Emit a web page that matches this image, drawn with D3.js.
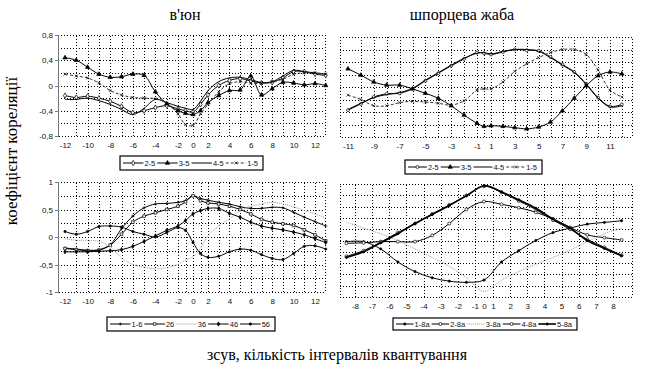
<!DOCTYPE html>
<html><head><meta charset="utf-8">
<script src="https://cdn.jsdelivr.net/npm/d3@7"></script>
<style>
body{margin:0;background:#fff}
svg{display:block}
.tick text{font-family:Arial,'Liberation Sans',sans-serif;font-size:8px;fill:#111}
.lbl{font-family:'Liberation Serif','Times New Roman',serif;fill:#000}
.leg{font-family:Arial,'Liberation Sans',sans-serif;font-size:7.5px;fill:#111}
.grid line,.frame{shape-rendering:crispEdges}
</style></head><body>
<svg id="c" width="649" height="375"></svg>
<script>
// ---- data ----
const lagsLeft = [-12,-11,-10,-9,-8,-7,-6,-5,-4,-3,-2,-1,0,1,2,3,4,5,6,7,8,9,10,11,12,13]
const vyun25 = [-0.16,-0.19,-0.17,-0.2,-0.25,-0.33,-0.43,-0.4,-0.35,-0.32,-0.37,-0.4,-0.42,-0.3,-0.15,0,0.08,0.11,0.07,0.04,0.05,0.12,0.22,0.22,0.18,0.16]
const vyun35 = [0.44,0.4,0.29,0.18,0.13,0.14,0.18,0.16,-0.1,-0.29,-0.4,-0.44,-0.46,-0.4,-0.27,-0.16,-0.08,-0.07,0.15,-0.15,-0.05,0.05,0.04,0.01,0.03,0]
const vyun45 = [-0.22,-0.22,-0.2,-0.24,-0.3,-0.38,-0.46,-0.36,-0.22,-0.27,-0.33,-0.36,-0.38,-0.25,-0.08,0.06,0.12,0.13,0.09,0.05,0.06,0.15,0.24,0.22,0.2,0.18]
const vyun15 = [0.18,0.15,0.12,0.04,-0.08,-0.15,-0.19,-0.2,-0.21,-0.28,-0.45,-0.62,-0.63,-0.45,-0.3,-0.1,0.03,0.06,0.04,0.03,0.06,0.1,0.18,0.2,0.2,0.18]

const vyun16 = [-0.2,-0.22,-0.24,-0.23,-0.14,0.15,0.38,0.53,0.6,0.61,0.63,0.66,0.75,0.7,0.67,0.63,0.6,0.55,0.52,0.52,0.54,0.53,0.45,0.36,0.28,0.2]
const vyun26 = [-0.21,-0.23,-0.25,-0.24,-0.15,0.05,0.27,0.38,0.44,0.5,0.56,0.64,0.75,0.66,0.62,0.6,0.56,0.5,0.42,0.32,0.27,0.24,0.21,0.13,0.04,-0.07]
const vyun36 = [-0.03,-0.06,-0.06,-0.08,-0.17,-0.38,-0.5,-0.55,-0.58,-0.56,-0.5,-0.42,-0.36,-0.2,0.02,0.2,0.33,0.48,0.56,0.6,0.63,0.6,0.55,0.48,0.42,0.35]
const vyun46 = [-0.27,-0.27,-0.27,-0.26,-0.25,-0.23,-0.17,-0.08,0.02,0.12,0.2,0.3,0.42,0.48,0.52,0.52,0.43,0.36,0.27,0.2,0.16,0.13,0.09,0.04,-0.03,-0.1]
const vyun56 = [0.1,0.05,0.1,0.19,0.2,0.18,0.1,0.05,0,0.08,0.17,0.12,-0.1,-0.3,-0.37,-0.35,-0.27,-0.22,-0.24,-0.32,-0.39,-0.41,-0.3,-0.17,-0.16,-0.22]

const lagsToad = [-11,-10,-9,-8,-7,-6,-5,-4,-3,-2,-1,0,1,2,3,4,5,6,7,8,9,10,11,12]
const toad25 = [-0.37,-0.27,-0.16,-0.11,-0.1,-0.03,0.1,0.22,0.34,0.45,0.55,0.54,0.52,0.56,0.6,0.59,0.58,0.48,0.36,0.24,0.05,-0.17,-0.31,-0.28]
const toad35 = [0.29,0.19,0.08,0.03,0.03,-0.03,-0.1,-0.18,-0.3,-0.45,-0.58,-0.63,-0.62,-0.63,-0.65,-0.67,-0.64,-0.56,-0.38,-0.18,0.02,0.18,0.24,0.21]
const toad45 = [-0.36,-0.26,-0.17,-0.12,-0.09,-0.02,0.11,0.23,0.35,0.46,0.54,0.55,0.53,0.57,0.6,0.6,0.57,0.47,0.35,0.23,0.04,-0.18,-0.32,-0.3]
const toad15 = [-0.13,-0.2,-0.3,-0.3,-0.25,-0.23,-0.24,-0.26,-0.29,-0.22,-0.05,-0.03,-0.03,0.08,0.25,0.37,0.47,0.55,0.6,0.6,0.52,0.27,-0.05,-0.16]

const lagsToadB = [-8.5,-7.5,-6.5,-5.5,-4.5,-3.5,-2.5,-1.5,0,1.5,2.5,3.5,4.5,5.5,6.5,7.5,8.5]
const toad18a = [-0.02,-0.02,-0.15,-0.38,-0.55,-0.66,-0.72,-0.74,-0.7,-0.38,-0.18,0,0.14,0.22,0.29,0.32,0.35]
const toad28a = [-0.05,-0.04,-0.02,-0.02,-0.02,0.09,0.3,0.55,0.69,0.64,0.58,0.5,0.38,0.23,0.1,0.05,0.01]
const toad38a = [0.32,0.22,0.12,0,-0.15,-0.3,-0.46,-0.66,-0.9,-0.7,-0.55,-0.42,-0.3,-0.17,-0.02,0.12,0.22]
const toad48a = [-0.28,-0.18,-0.03,0.14,0.3,0.47,0.63,0.8,0.96,0.85,0.7,0.55,0.36,0.2,0.02,-0.12,-0.26]
const toad58a = [-0.3,-0.2,-0.04,0.12,0.3,0.46,0.62,0.79,0.97,0.86,0.72,0.57,0.38,0.22,0,-0.14,-0.27]

const ticksLeft = [-12,-10,-8,-6,-4,-2,0,2,4,6,8,10,12]
const ticksToad = [-11,-9,-7,-5,-3,-1,1,3,5,7,9,11]
const ticksToadB = [-8,-7,-6,-5,-4,-3,-2,-1,0,1,2,3,4,5,6,7,8]

const svg = d3.select('#c')
const fmt = d => String(d).replace('.', ',')

// marker shapes
function markerPath(type) {
	if (type == 'diamond') return d3.symbol(d3.symbolDiamond, 8)()
	if (type == 'sdiamond') return d3.symbol(d3.symbolDiamond, 5)()
	if (type == 'triangle') return d3.symbol(d3.symbolTriangle, 8)()
	if (type == 'square') return d3.symbol(d3.symbolSquare, 7)()
	if (type == 'circle') return d3.symbol(d3.symbolCircle, 7)()
	if (type == 'dot') return d3.symbol(d3.symbolCircle, 4)()
	if (type == 'x') return 'M-1.4,-1.4L1.4,1.4M-1.4,1.4L1.4,-1.4'
	if (type == 'plus') return 'M-1.6,0L1.6,0M0,-1.6L0,1.6'
	return null
}
const openMarks = ['diamond', 'square', 'circle']
const markFill = m => openMarks.includes(m) ? '#fff' : (m == 'x' || m == 'plus' ? 'none' : '#000')

function panel(o) {
	const x = d3.scaleLinear().domain(o.xDom).range(o.xRng)
	const y = d3.scaleLinear().domain(o.yDom).range(o.yRng)
	const top = y(o.yDom[1]), bot = y(o.yDom[0])
	const g = svg.append('g')

	// grid
	g.append('g').attr('class', 'grid').attr('transform', `translate(0,${bot})`)
	.call(d3.axisBottom(x).tickValues(o.gridX).tickSize(-(bot - top)).tickFormat(''))
	.call(s => s.select('.domain').remove())
	.selectAll('line').attr('stroke', '#000').attr('stroke-dasharray', '1,2')

	g.append('g').attr('class', 'grid').attr('transform', `translate(${o.left},0)`)
	.call(d3.axisLeft(y).tickValues(o.gridY).tickSize(-(o.right - o.left)).tickFormat(''))
	.call(s => s.select('.domain').remove())
	.selectAll('line').attr('stroke', '#000').attr('stroke-dasharray', '1,2')

	g.append('rect').attr('class', 'frame').attr('x', o.left).attr('y', top).attr('width', o.right - o.left).attr('height', bot - top)
	.attr('fill', 'none').attr('stroke', '#000').attr('stroke-dasharray', '1,2')

	if (o.yTicks) {
		g.append('g').attr('transform', `translate(${o.left},0)`)
		.call(d3.axisLeft(y).tickValues(o.yTicks).tickSize(3).tickPadding(2).tickFormat(fmt))
		.call(s => s.selectAll('line,.domain').attr('stroke', '#777').attr('shape-rendering', 'crispEdges'))
	}

	g.append('g').attr('transform', `translate(0,${bot + 2})`)
	.call(d3.axisBottom(x).tickValues(o.xTicks).tickSize(0).tickPadding(4).tickFormat(fmt))
	.call(s => s.select('.domain').remove())

	const line = d3.line().x((d, i) => x(o.lags[i])).y(d => y(d)).curve(d3.curveCatmullRom.alpha(0.5))
	o.series.forEach(s => {
		g.append('path').datum(s.values).attr('d', line).attr('fill', 'none')
		.attr('stroke', s.color || '#000').attr('stroke-width', s.width || 1)
		.attr('stroke-dasharray', s.dash || null)
		const p = markerPath(s.mark)
		if (p) {
			g.append('g').selectAll('path').data(s.values).join('path')
			.attr('d', p).attr('transform', (d, i) => `translate(${x(o.lags[i])},${y(d)})`)
			.attr('fill', markFill(s.mark))
			.attr('stroke', '#000').attr('stroke-width', 0.7)
		}
	})

	// legend
	const lg = svg.append('g')
	const [bx, by, bw, bh] = o.legend
	lg.append('rect').attr('x', bx).attr('y', by).attr('width', bw).attr('height', bh)
	.attr('fill', '#fff').attr('stroke', '#000').attr('stroke-width', 1.2)
	const texts = o.series.map(s => lg.append('text').attr('class', 'leg').text(s.name))
	const tw = texts.map(t => t.node().getComputedTextLength())
	const sw = (bw - 6 - d3.sum(tw) - 3 * o.series.length) / o.series.length
	let cx = bx + 3
	o.series.forEach((s, i) => {
		const cy = by + bh / 2
		lg.append('line').attr('x1', cx).attr('x2', cx + sw).attr('y1', cy).attr('y2', cy)
		.attr('stroke', s.color || '#000').attr('stroke-width', s.width || 1).attr('stroke-dasharray', s.dash || null)
		const p = markerPath(s.mark)
		if (p) lg.append('path').attr('d', p).attr('transform', `translate(${cx + sw / 2},${cy})`)
			.attr('fill', markFill(s.mark)).attr('stroke', '#000').attr('stroke-width', 0.7)
		texts[i].attr('x', cx + sw + 1).attr('y', cy + 2.6)
		cx += sw + tw[i] + 3
	})
}

panel({
	left: 58, right: 325,
	xDom: [-12, -2, 0, 2, 12], xRng: [65, 178, 193, 208, 315],
	yDom: [-0.8, 0.8], yRng: [136, 35],
	gridX: [-11, -10, -9, -8, -7, -6, -5, -4, -3, -2, -1, 0, 1, 2, 3, 4, 5, 6, 7, 8, 9, 10, 11, 12],
	gridY: [-0.6, -0.4, -0.2, 0, 0.2, 0.4, 0.6],
	yTicks: [-0.8, -0.4, 0, 0.4, 0.8], xTicks: ticksLeft,
	lags: lagsLeft,
	series: [
		{ name: '2-5', values: vyun25, mark: 'diamond' },
		{ name: '3-5', values: vyun35, mark: 'triangle' },
		{ name: '4-5', values: vyun45 },
		{ name: '1-5', values: vyun15, mark: 'x', dash: '3,2', color: '#333' }
	],
	legend: [120, 156, 143, 14]
})

panel({
	left: 340, right: 632,
	xDom: [-11, -1, 1, 11], xRng: [348, 477, 491, 610],
	yDom: [-0.8, 0.8], yRng: [137, 37],
	gridX: [-10, -9, -8, -7, -6, -5, -4, -3, -2, -1, 0, 1, 2, 3, 4, 5, 6, 7, 8, 9, 10, 11, 12],
	gridY: [-0.6, -0.4, -0.2, 0, 0.2, 0.4, 0.6],
	xTicks: ticksToad,
	lags: lagsToad,
	series: [
		{ name: '2-5', values: toad25, mark: 'circle' },
		{ name: '3-5', values: toad35, mark: 'triangle' },
		{ name: '4-5', values: toad45 },
		{ name: '1-5', values: toad15, mark: 'x', dash: '3,2', color: '#333' }
	],
	legend: [405, 160, 137, 14]
})

panel({
	left: 58, right: 325,
	xDom: [-12, -2, 0, 2, 12], xRng: [65, 178, 193, 208, 315],
	yDom: [-1, 1], yRng: [292, 182],
	gridX: [-11, -10, -9, -8, -7, -6, -5, -4, -3, -2, -1, 0, 1, 2, 3, 4, 5, 6, 7, 8, 9, 10, 11, 12],
	gridY: [-0.75, -0.5, -0.25, 0, 0.25, 0.5, 0.75],
	yTicks: [-1, -0.5, 0, 0.5, 1], xTicks: ticksLeft,
	lags: lagsLeft,
	series: [
		{ name: '1-6', values: vyun16, mark: 'plus' },
		{ name: '26', values: vyun26, mark: 'square' },
		{ name: '36', values: vyun36, dash: '1,1', color: '#999' },
		{ name: '46', values: vyun46, mark: 'sdiamond' },
		{ name: '56', values: vyun56, mark: 'dot' }
	],
	legend: [107, 317, 168, 14]
})

panel({
	left: 340, right: 632,
	xDom: [-8, -1, 1, 8], xRng: [355, 475, 493, 613],
	yDom: [-1, 1], yRng: [297, 184],
	gridX: [-8, -7, -6, -5, -4, -3, -2, -1, 1, 2, 3, 4, 5, 6, 7, 8],
	gridY: [-0.8, -0.6, -0.4, -0.2, 0, 0.2, 0.4, 0.6, 0.8],
	xTicks: ticksToadB,
	lags: lagsToadB,
	series: [
		{ name: '1-8a', values: toad18a, mark: 'dot' },
		{ name: '2-8a', values: toad28a, mark: 'circle' },
		{ name: '3-8a', values: toad38a, dash: '1,1', color: '#999' },
		{ name: '4-8a', values: toad48a, mark: 'circle' },
		{ name: '5-8a', values: toad58a, mark: 'dot', width: 1.6 }
	],
	legend: [393, 318, 184, 12]
})

// titles
svg.append('text').attr('class', 'lbl').attr('x', 185).attr('y', 20).attr('text-anchor', 'middle')
.style('font-size', '16px').text("в'юн")
svg.append('text').attr('class', 'lbl').attr('x', 462).attr('y', 20).attr('text-anchor', 'middle')
.style('font-size', '16px').text('шпорцева жаба')
svg.append('text').attr('class', 'lbl').attr('transform', 'translate(17,151) rotate(-90)').attr('text-anchor', 'middle')
.style('font-size', '17px').text('коефіцієнт кореляції')
svg.append('text').attr('class', 'lbl').attr('x', 337).attr('y', 360).attr('text-anchor', 'middle')
.style('font-size', '16px').text('зсув, кількість інтервалів квантування')
</script></body></html>
